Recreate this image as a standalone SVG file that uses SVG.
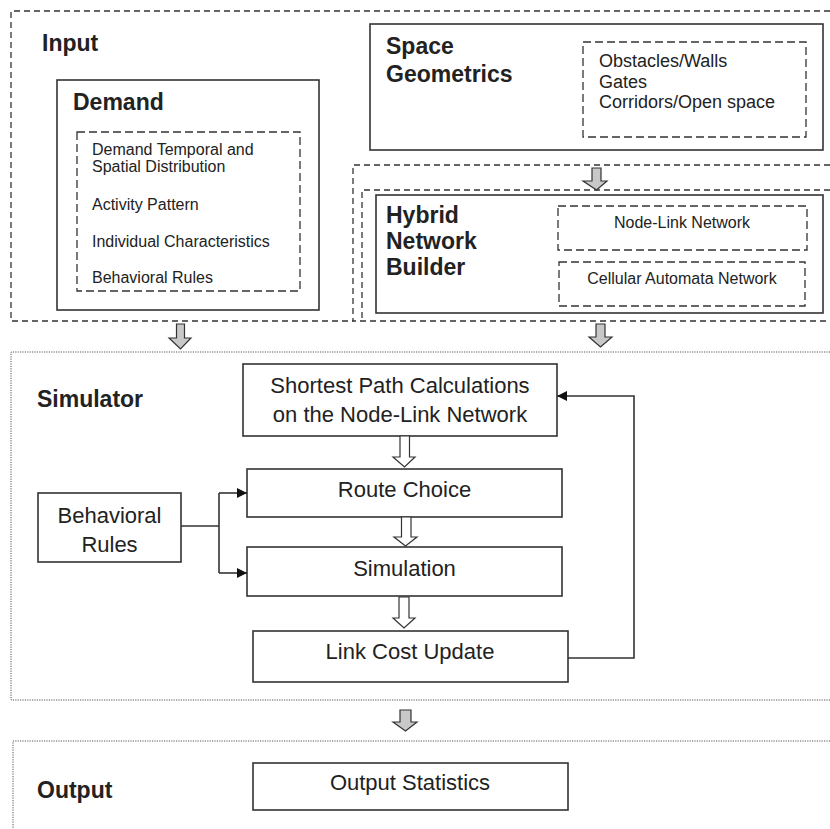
<svg xmlns="http://www.w3.org/2000/svg" width="830" height="829" viewBox="0 0 830 829">
<defs>
<style>
text{font-family:"Liberation Sans",Arial,sans-serif;fill:#222}
.t{font-weight:bold;font-size:23px}
.s16{font-size:16px}
.s18{font-size:18px}
.s22{font-size:22px}
.box{fill:#fff;stroke:#333;stroke-width:1.6}
.dash{fill:none;stroke:#333;stroke-width:1.3;stroke-dasharray:6 4}
.dash2{fill:none;stroke:#333;stroke-width:1.3;stroke-dasharray:8 4}
.dot{fill:none;stroke:#555;stroke-width:1;stroke-dasharray:1.2 1.2}
.ga{fill:#c8c8c8;stroke:#333;stroke-width:1.2}
.wa{fill:#fff;stroke:#333;stroke-width:1.2}
.ln{fill:none;stroke:#333;stroke-width:1.6}
</style>
<marker id="ah" viewBox="0 0 10 10" refX="10" refY="5" markerWidth="12" markerHeight="10" markerUnits="userSpaceOnUse" orient="auto">
<path d="M0,0 L10,5 L0,10 z" fill="#111"/>
</marker>
</defs>
<rect width="830" height="829" fill="#fff"/>

<g id="input">
<path class="dash" d="M830,11 H11 V321 H353"/>
<text class="t" x="42" y="51">Input</text>
</g>

<g id="demand">
<rect class="box" x="57" y="80" width="262" height="230"/>
<text class="t" x="73" y="110">Demand</text>
<rect class="dash2" x="77" y="132" width="223" height="159"/>
<text class="s16" x="92" y="155">Demand Temporal and</text>
<text class="s16" x="92" y="172">Spatial Distribution</text>
<text class="s16" x="92" y="210">Activity Pattern</text>
<text class="s16" x="92" y="247">Individual Characteristics</text>
<text class="s16" x="92" y="283">Behavioral Rules</text>
</g>

<g id="space">
<rect class="box" x="370" y="24" width="453" height="126"/>
<text class="t" x="386" y="54">Space</text>
<text class="t" x="386" y="82">Geometrics</text>
<rect class="dash2" x="583" y="42" width="223" height="95"/>
<text class="s18" x="599" y="67">Obstacles/Walls</text>
<text class="s18" x="599" y="88">Gates</text>
<text class="s18" x="599" y="108">Corridors/Open space</text>
</g>

<g id="hybrid">
<path class="dash" d="M830,165 H353 V321 H830"/>
<path class="dash" d="M830,190 H362 V321"/>
<rect class="box" x="376" y="195" width="447" height="118"/>
<text class="t" x="386" y="223">Hybrid</text>
<text class="t" x="386" y="249">Network</text>
<text class="t" x="386" y="275">Builder</text>
<rect class="dash2" x="558" y="206" width="249" height="44"/>
<text class="s16" x="682" y="228" text-anchor="middle">Node-Link Network</text>
<rect class="dash2" x="559" y="262" width="246" height="44"/>
<text class="s16" x="682" y="284" text-anchor="middle">Cellular Automata Network</text>
</g>

<g id="simulator">
<path class="dot" d="M830,352 H11 V700 H830"/>
<text class="t" x="37" y="407">Simulator</text>
</g>

<g id="shortest">
<rect class="box" x="243" y="364" width="314" height="72"/>
<text class="s22" x="400" y="393" text-anchor="middle">Shortest Path Calculations</text>
<text class="s22" x="400" y="422" text-anchor="middle">on the Node-Link Network</text>
</g>

<g id="route">
<rect class="box" x="247" y="469" width="315" height="48"/>
<text class="s22" x="404.5" y="497" text-anchor="middle">Route Choice</text>
</g>

<g id="simulation">
<rect class="box" x="247" y="547" width="315" height="49"/>
<text class="s22" x="404.5" y="576" text-anchor="middle">Simulation</text>
</g>

<g id="linkcost">
<rect class="box" x="253" y="631" width="315" height="51"/>
<text class="s22" x="410" y="659" text-anchor="middle">Link Cost Update</text>
</g>

<g id="behavioral">
<rect class="box" x="38" y="493" width="143" height="69"/>
<text class="s22" x="109.5" y="523" text-anchor="middle">Behavioral</text>
<text class="s22" x="109.5" y="552" text-anchor="middle">Rules</text>
</g>

<g id="output">
<path class="dot" d="M830,741 H13 V829"/>
<text class="t" x="37" y="798">Output</text>
<rect class="box" x="253" y="763" width="315" height="47"/>
<text class="s22" x="410" y="790" text-anchor="middle">Output Statistics</text>
</g>

<g id="connectors">
<path class="ga" d="M592,168 H601 V181 H607 L596.5,190 L583,181 H592 Z"/>
<path class="ga" d="M176.5,324 H184.5 V338 H191 L180.5,349 L169,338 H176.5 Z"/>
<path class="ga" d="M596,324 H605 V337 H612 L600.5,347 L589,337 H596 Z"/>
<path class="ga" d="M400,710 H411 V722 H417 L405.5,731 L393,722 H400 Z"/>
<path class="wa" d="M400,436 H409.5 V457 H415 L404.5,467 L393,457 H400 Z"/>
<path class="wa" d="M401.5,517 H411 V537 H417 L405.5,546 L394,537 H401.5 Z"/>
<path class="wa" d="M399,597 H409 V618 H415 L404,628 L393,618 H399 Z"/>
<path class="ln" d="M181,526 H219"/>
<path class="ln" d="M219,493 V573"/>
<path class="ln" d="M219,493 H247" marker-end="url(#ah)"/>
<path class="ln" d="M219,573 H247" marker-end="url(#ah)"/>
<path class="ln" d="M568,658 H634 V396 H557" marker-end="url(#ah)"/>
</g>
</svg>
